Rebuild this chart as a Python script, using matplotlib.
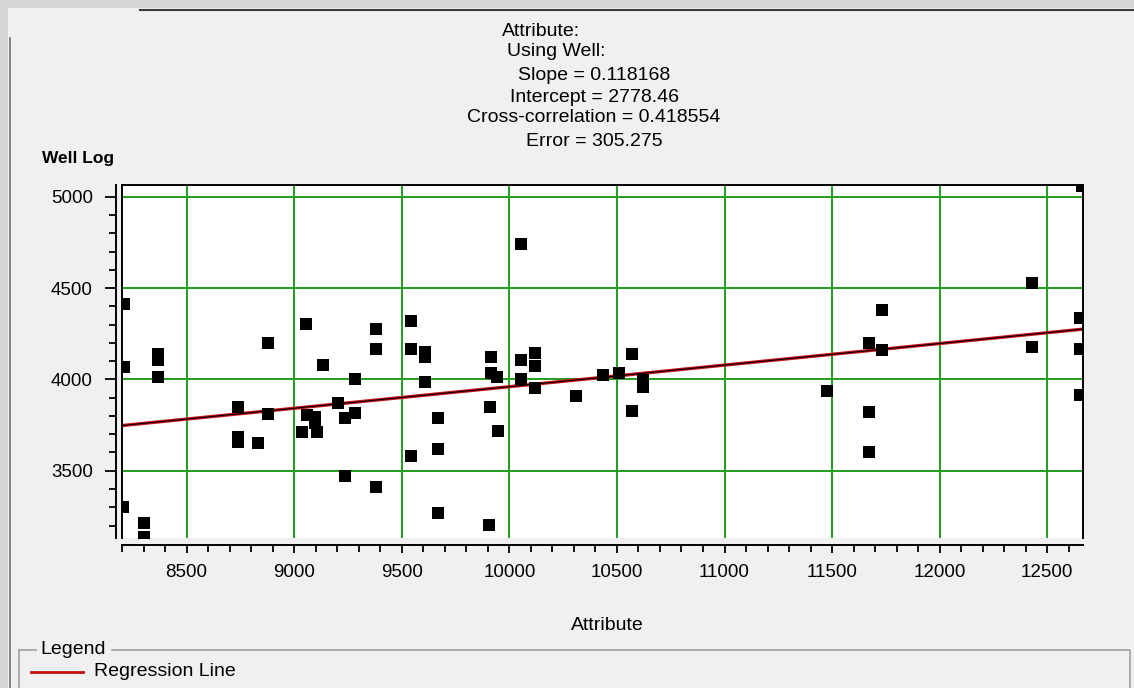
import matplotlib.pyplot as plt
from matplotlib.lines import Line2D
from matplotlib.patches import Rectangle
from matplotlib.ticker import MultipleLocator

# attribute value / well log value pairs
attribute = [8208, 8208, 8368, 8368, 8368, 8880, 9055, 9135, 9283, 9380,
             9380, 9543, 9543, 9608, 9608, 9608, 9914, 9914, 9945, 9911,
             8740, 9205, 8740, 8740, 8833, 8880, 9058, 9097, 9097, 9035,
             9105, 9236, 9283, 9236, 9380, 9543, 9670, 9670, 9670, 9949,
             9907, 8205, 8301, 8301, 10053, 10053, 10117, 10117, 10053, 10117,
             10311, 10435, 10512, 10570, 10619, 10619, 10570, 11477, 11670, 11733,
             11733, 11670, 11670, 12660, 12427, 12652, 12427, 12652, 12652]
well_log = [4411, 4070, 4137, 4106, 4015, 4198, 4303, 4079, 4000, 4276,
            4166, 4321, 4166, 4152, 4121, 3984, 4124, 4033, 4015, 3851,
            3851, 3872, 3686, 3659, 3654, 3809, 3805, 3796, 3760, 3710,
            3710, 3787, 3814, 3473, 3409, 3581, 3787, 3617, 3267, 3718,
            3203, 3303, 3212, 3139, 4741, 4106, 4146, 4075, 4000, 3951,
            3909, 4024, 4037, 4139, 3997, 3957, 3829, 3938, 4201, 4380,
            4161, 3823, 3600, 5058, 4529, 4334, 4176, 4166, 3915]

slope = 0.118168
intercept = 2778.46
cross_corr = 0.418554
error = 305.275

x_range = [8200, 12666]
y_range = [3132, 5064]

W, H = 1134, 688
TXT = ['Liberation Sans', 'DejaVu Sans']
green = '#1f9e1f'


def fx(px):
    return px / W


def fy(py):
    return 1 - py / H


fig = plt.figure(figsize=(W / 100, H / 100), dpi=100, facecolor='#f0f0f0')

# window frame bits of the screenshot
fig.add_artist(Rectangle((0, fy(8)), 1, 8 / H, transform=fig.transFigure,
                         color='#d6d6d6', lw=0))
fig.add_artist(Rectangle((0, 0), fx(8), 1, transform=fig.transFigure,
                         color='#d6d6d6', lw=0))
fig.add_artist(Line2D([fx(140), 1], [fy(9.5), fy(9.5)], transform=fig.transFigure,
                      color='#3a3a3a', lw=1.5))
fig.add_artist(Line2D([fx(9.5), fx(9.5)], [fy(38), 0], transform=fig.transFigure,
                      color='#707070', lw=1.2))

ax = fig.add_axes([fx(122), fy(538), fx(1083) - fx(122), (538 - 185) / H])
ax.set_facecolor('white')

ax.grid(True, which='major', color=green, lw=1.4, zorder=0)
ax.set_axisbelow(True)

xs = [x_range[0], x_range[1]]
ys = [intercept + slope * v for v in xs]
ax.plot(xs, ys, color='#d01010', lw=2.4, zorder=2)
ax.plot(xs, ys, color='black', lw=0.8, zorder=3)

ax.scatter(attribute, well_log, marker='s', s=66, color='black', lw=0, zorder=4)

ax.set_xlim(x_range)
ax.set_ylim(y_range)
ax.xaxis.set_major_locator(MultipleLocator(500))
ax.xaxis.set_minor_locator(MultipleLocator(100))
ax.yaxis.set_major_locator(MultipleLocator(500))
ax.yaxis.set_minor_locator(MultipleLocator(100))

for side in ['top', 'right']:
    ax.spines[side].set_linewidth(1.4)
ax.spines['left'].set_position(('outward', 4))
ax.spines['left'].set_linewidth(1.4)
ax.spines['bottom'].set_position(('outward', 5))
ax.spines['bottom'].set_linewidth(1.4)
ax.plot([0, 0], [0, 1], transform=ax.transAxes, color='black', lw=1.4,
        clip_on=False, zorder=5)

ax.tick_params(axis='y', which='major', length=8, width=1.3, pad=9)
ax.tick_params(axis='y', which='minor', length=5, width=1.3)
ax.tick_params(axis='x', which='major', length=6, width=1.3, pad=8)
ax.tick_params(axis='x', which='minor', length=5, width=1.3)
for lab in ax.get_xticklabels() + ax.get_yticklabels():
    lab.set_fontfamily(TXT)
    lab.set_fontsize(13.5)

# header block
header = [('Attribute:', 502, 32, 'left'),
          ('Using Well:', 507, 52, 'left'),
          (f'Slope = {slope:.6f}', 594, 75, 'center'),
          (f'Intercept = {intercept:.2f}', 594, 97, 'center'),
          (f'Cross-correlation = {cross_corr:.6f}', 594, 118, 'center'),
          (f'Error = {error:.3f}', 594, 142, 'center')]
for txt, px, py, ha in header:
    fig.text(fx(px), fy(py), txt, ha=ha, va='center', fontsize=14, family=TXT)

fig.text(fx(42), fy(158), 'Well Log', ha='left', va='center', fontsize=12.5,
         fontweight='bold', family=['Liberation Sans Narrow', 'Liberation Sans'])
fig.text(fx(607), fy(625), 'Attribute', ha='center', va='center', fontsize=14,
         family=TXT)

# legend group box
box = '#a0a0a0'
fig.add_artist(Line2D([fx(19), fx(36)], [fy(650), fy(650)], transform=fig.transFigure,
                      color=box, lw=1.2))
fig.add_artist(Line2D([fx(112), fx(1130), fx(1130)], [fy(650), fy(650), 0],
                      transform=fig.transFigure, color=box, lw=1.2))
fig.add_artist(Line2D([fx(19), fx(19)], [fy(650), 0], transform=fig.transFigure,
                      color=box, lw=1.2))
fig.text(fx(40), fy(650), 'Legend', ha='left', va='center', fontsize=14, family=TXT)
fig.add_artist(Line2D([fx(31), fx(83)], [fy(672), fy(672)], transform=fig.transFigure,
                      color='#c01010', lw=2))
fig.text(fx(94), fy(672), 'Regression Line', ha='left', va='center', fontsize=14,
         family=TXT)

fig.savefig('out.png', dpi=100, facecolor=fig.get_facecolor())
